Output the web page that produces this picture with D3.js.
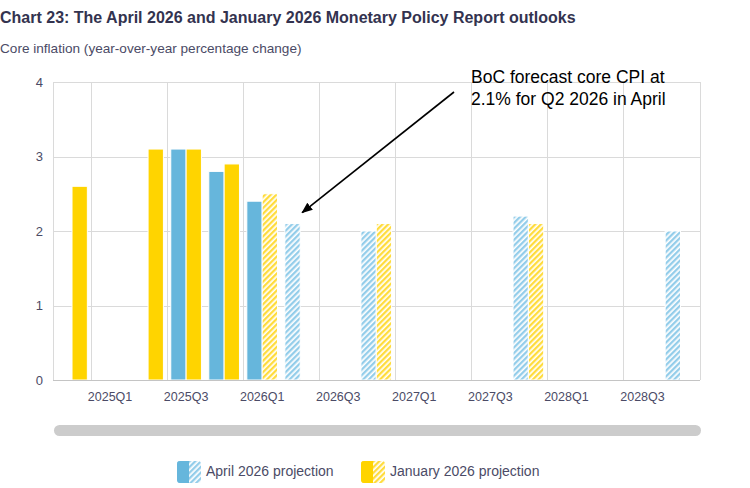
<!DOCTYPE html>
<html>
<head>
<meta charset="utf-8">
<script src="https://cdn.jsdelivr.net/npm/d3@7"></script>
<style>
  body { margin: 0; background: #fff; font-family: "Liberation Sans", Arial, sans-serif; }
  svg text { font-family: "Liberation Sans", Arial, sans-serif; }
</style>
</head>
<body>
<div class="chart"></div>
<script>
const quarters = ['2024Q4','2025Q1','2025Q2','2025Q3','2025Q4','2026Q1','2026Q2','2026Q3','2026Q4',
	'2027Q1','2027Q2','2027Q3','2027Q4','2028Q1','2028Q2','2028Q3','2028Q4'];
const tickLabels = ['2025Q1','2025Q3','2026Q1','2026Q3','2027Q1','2027Q3','2028Q1','2028Q3'];
const april = [null, null, null, 3.1, 2.8, 2.4, 2.1, null, 2.0, null, null, null, 2.2, null, null, null, 2.0];
const january = [2.6, null, 3.1, 3.1, 2.9, 2.5, null, null, 2.1, null, null, null, 2.1, null, null, null, null];
// first quarter drawn hatched (projection) for each report
const aprilProjectionStart = '2026Q2';
const januaryProjectionStart = '2026Q1';
const yTicks = [0, 1, 2, 3, 4];

const series = [
	{key: 'april', name: 'April 2026 projection', values: april, start: aprilProjectionStart, color: '#66b6dc', hatch: '#93cdea'},
	{key: 'january', name: 'January 2026 projection', values: january, start: januaryProjectionStart, color: '#ffd400', hatch: '#ffdc3c'}
];

const width = 750, height = 488;
let margin = {top: 82, left: 53, right: 50, bottom: 108};

let svg = d3.select('.chart').append('svg')
	.attr('width', width)
	.attr('height', height);

let defs = svg.append('defs');
series.forEach(function(s){
	let p = defs.append('pattern')
		.attr('id', 'hatch-' + s.key)
		.attr('patternUnits', 'userSpaceOnUse')
		.attr('width', 4)
		.attr('height', 4)
		.attr('patternTransform', 'rotate(45)');
	p.append('rect').attr('width', 4).attr('height', 4).attr('fill', '#fff');
	p.append('rect').attr('width', 2.3).attr('height', 4).attr('fill', s.hatch);
});
defs.append('marker')
	.attr('id', 'arrow')
	.attr('viewBox', '0 0 10 10')
	.attr('refX', 9).attr('refY', 5)
	.attr('markerWidth', 7).attr('markerHeight', 7)
	.attr('orient', 'auto')
	.append('path')
	.attr('d', 'M0,1 L10,5 L0,9 Z')
	.attr('fill', '#000');

let xScale = d3.scaleBand()
	.domain(quarters)
	.range([margin.left, width - margin.right - 0.5])
	.padding(0);

let inner = d3.scaleBand()
	.domain(series.map(function(s){return s.key}))
	.range([0, xScale.bandwidth()])
	.paddingInner(0)
	.paddingOuter(0.24);

let yScale = d3.scaleLinear()
	.domain([0, 4])
	.range([height - margin.bottom, margin.top]);

const x0 = margin.left, x1 = width - margin.right;

// title and subtitle
svg.append('text')
	.attr('x', 0).attr('y', 23)
	.attr('font-size', 16).attr('font-weight', 'bold')
	.attr('fill', '#33334f')
	.text('Chart 23: The April 2026 and January 2026 Monetary Policy Report outlooks');
svg.append('text')
	.attr('x', 0).attr('y', 53)
	.attr('font-size', 13.6)
	.attr('fill', '#4b4b66')
	.text('Core inflation (year-over-year percentage change)');

// grid
svg.append('g').selectAll('line')
	.data(yTicks.filter(function(t){return t > 0}))
	.enter().append('line')
	.attr('x1', x0).attr('x2', x1)
	.attr('y1', function(d){return Math.round(yScale(d)) + 0.5})
	.attr('y2', function(d){return Math.round(yScale(d)) + 0.5})
	.attr('stroke', '#dadada');

let vLines = [x0, x1].concat(tickLabels.map(function(q){return xScale(q)}));
svg.append('g').selectAll('line')
	.data(vLines)
	.enter().append('line')
	.attr('x1', function(d){return Math.round(d) + 0.5})
	.attr('x2', function(d){return Math.round(d) + 0.5})
	.attr('y1', yScale(4))
	.attr('y2', yScale(0))
	.attr('stroke', '#dadada');

// bars
series.forEach(function(s){
	let startIdx = quarters.indexOf(s.start);
	let rows = quarters.map(function(q, i){return {q: q, v: s.values[i], proj: i >= startIdx}})
		.filter(function(d){return d.v !== null});
	svg.append('g').selectAll('rect')
		.data(rows)
		.enter().append('rect')
		.attr('x', function(d){return xScale(d.q) + inner(s.key)})
		.attr('width', inner.bandwidth())
		.attr('y', function(d){return yScale(d.v)})
		.attr('height', function(d){return yScale(0) - yScale(d.v)})
		.attr('fill', function(d){return d.proj ? 'url(#hatch-' + s.key + ')' : s.color})
		.attr('stroke', '#fff')
		.attr('stroke-width', 1);
});

// axes
svg.append('line')
	.attr('x1', x0).attr('x2', x1)
	.attr('y1', Math.round(yScale(0)) + 0.5).attr('y2', Math.round(yScale(0)) + 0.5)
	.attr('stroke', '#c4c4c4');

let yAxis = d3.axisLeft(yScale)
	.tickValues(yTicks)
	.tickSize(0)
	.tickPadding(10)
	.tickFormat(d3.format('d'));
let gy = svg.append('g')
	.attr('transform', 'translate(' + x0 + ',0)')
	.call(yAxis);
gy.select('.domain').remove();
gy.selectAll('text')
	.attr('font-size', 13)
	.attr('fill', '#4b4b66');

let xAxis = d3.axisBottom(xScale)
	.tickValues(tickLabels)
	.tickSize(0)
	.tickPadding(12);
let gx = svg.append('g')
	.attr('transform', 'translate(0,' + yScale(0) + ')')
	.call(xAxis);
gx.select('.domain').remove();
gx.selectAll('text')
	.attr('font-size', 12.5)
	.attr('fill', '#4b4b66');

// annotation pointing at the April 2026Q2 bar
svg.append('line')
	.attr('x1', 454).attr('y1', 92)
	.attr('x2', xScale('2026Q2') + inner('april') + inner.bandwidth() + 2)
	.attr('y2', yScale(2.1) - 11)
	.attr('stroke', '#000')
	.attr('stroke-width', 1.6)
	.attr('marker-end', 'url(#arrow)');
let note = svg.append('text')
	.attr('font-size', 17.5)
	.attr('fill', '#000');
note.append('tspan').attr('x', 471).attr('y', 83).text('BoC forecast core CPI at');
note.append('tspan').attr('x', 471).attr('y', 105).text('2.1% for Q2 2026 in April');

// scrollbar
svg.append('rect')
	.attr('x', 54).attr('y', 425)
	.attr('width', 647).attr('height', 11)
	.attr('rx', 5.5)
	.attr('fill', '#cccccc');

// legend
let legendX = [177, 361];
let legend = svg.append('g').selectAll('g')
	.data(series)
	.enter().append('g')
	.attr('transform', function(d, i){return 'translate(' + legendX[i] + ',461)'});
legend.append('rect')
	.attr('width', 24).attr('height', 22).attr('rx', 3)
	.attr('fill', function(d){return 'url(#hatch-' + d.key + ')'});
legend.append('path')
	.attr('d', 'M3,0 H12 V22 H3 Q0,22 0,19 V3 Q0,0 3,0 Z')
	.attr('fill', function(d){return d.color});
legend.append('text')
	.attr('x', 29).attr('y', 15)
	.attr('font-size', 14)
	.attr('fill', '#4b4b66')
	.text(function(d){return d.name});
</script>
</body>
</html>
